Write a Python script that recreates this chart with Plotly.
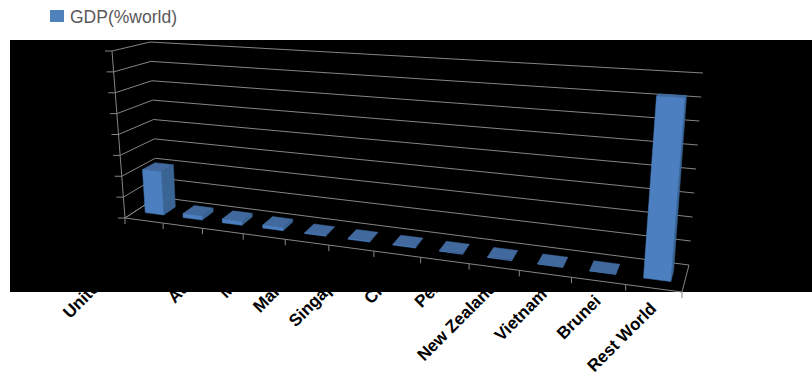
import plotly.graph_objects as go

# Chart content
series_name = "GDP(%world)"
countries = ["United States", "Canada", "Australia", "Mexico", "Malaysia", "Singapore",
             "Chile", "Peru", "New Zealand", "Vietnam", "Brunei", "Rest World"]
gdp_share = [21.0, 1.9, 1.7, 1.4, 0.4, 0.4, 0.4, 0.3, 0.3, 0.2, 0.1, 71.0]
axis_max = 80
axis_step = 10

# Oblique view of the 3-D box: screen position of each box corner, (side, height, depth)
BOX = {
    (0, 0, 0): (125, 218), (1, 0, 0): (682, 292),
    (0, 1, 0): (112, 51),  (1, 1, 0): (700, 76),
    (0, 0, 1): (157, 197), (1, 0, 1): (689, 265),
    (0, 1, 1): (150, 42),  (1, 1, 1): (703, 73),
}
FORESHORTEN = 0.808


def project(cat, value, depth):
    """Map category position, axis value and depth (0 front, 1 back) to plot coordinates."""
    t = cat / len(countries)
    s = t * FORESHORTEN / (1 + t * (FORESHORTEN - 1))
    h = value / axis_max
    out = [0.0, 0.0]
    for (a, b, c), corner in BOX.items():
        w = (s if a else 1 - s) * (h if b else 1 - h) * (depth if c else 1 - depth)
        out[0] += w * corner[0]
        out[1] += w * corner[1]
    return tuple(out)


def polyline(points):
    return [p[0] for p in points] + [None], [p[1] for p in points] + [None]


fig = go.Figure()

# Gridlines, axis lines and tick marks
GRID = "#858585"
xs, ys = [], []
n = len(countries)
levels = list(range(0, axis_max + 1, axis_step))
for v in levels:
    fl = project(0, v, 0)
    a, b = polyline([(fl[0] - 7, fl[1]), fl, project(0, v, 1), project(n, v, 1)])
    xs += a
    ys += b
for seg in ([project(0, 0, 0), project(0, axis_max, 0)],
            [project(0, 0, 0), project(n, 0, 0), project(n, 0, 1)],
            [project(0, 0, 0), project(0, 0, 1)]):
    a, b = polyline(seg)
    xs += a
    ys += b
for i in range(n + 1):
    p = project(i, 0, 0)
    a, b = polyline([p, (p[0], p[1] + 6)])
    xs += a
    ys += b
fig.add_trace(go.Scatter(x=xs, y=ys, mode="lines", line=dict(color=GRID, width=1),
                         hoverinfo="skip", showlegend=False))

# Bars, each made of its three visible faces
FRONT, SIDE, TOP = "#4b7fbf", "#3a6493", "#41699d"
U0, U1, D0, D1 = 0.27, 0.76, 0.32, 0.70


def face(points, color):
    x = [p[0] for p in points]
    y = [p[1] for p in points]
    fig.add_trace(go.Scatter(x=x + x[:1], y=y + y[:1], mode="lines", fill="toself",
                             fillcolor=color, line=dict(color=color, width=0.5),
                             hoverinfo="skip", showlegend=False))


for i, v in enumerate(gdp_share):
    left, right = i + U0, i + U1
    face([project(right, 0, D0), project(right, 0, D1), project(right, v, D1), project(right, v, D0)], SIDE)
    face([project(left, v, D0), project(right, v, D0), project(right, v, D1), project(left, v, D1)], TOP)
    face([project(left, 0, D0), project(right, 0, D0), project(right, v, D0), project(left, v, D0)], FRONT)

# Category labels, black text running into the black panel
annotations = []
for i, name in enumerate(countries):
    px, py = project(i + 0.5, 0, 0)
    annotations.append(dict(x=px + 9, y=py + 8, xref="x", yref="y", text="<b>" + name + "</b>",
                            showarrow=False, textangle=-45, xanchor="right", yanchor="top",
                            font=dict(family="Liberation Sans", size=17, color="black")))

# Legend entry
annotations.append(dict(x=68, y=17, xref="x", yref="y", text=series_name, showarrow=False,
                        xanchor="left", yanchor="middle",
                        font=dict(family="Liberation Sans", size=17.5, color="#595959")))

fig.update_layout(
    width=812, height=377, margin=dict(l=0, r=0, t=0, b=0),
    paper_bgcolor="white", plot_bgcolor="white", showlegend=False,
    xaxis=dict(range=[0, 812], visible=False, fixedrange=True),
    yaxis=dict(range=[377, 0], visible=False, fixedrange=True),
    annotations=annotations,
    shapes=[
        dict(type="rect", x0=10, x1=812, y0=40, y1=292, xref="x", yref="y",
             fillcolor="black", line_width=0, layer="below"),
        dict(type="rect", x0=50, x1=64, y0=10, y1=22, xref="x", yref="y",
             fillcolor="#4f81bd", line_width=0, layer="below"),
    ],
)
fig.write_html("out.html")
